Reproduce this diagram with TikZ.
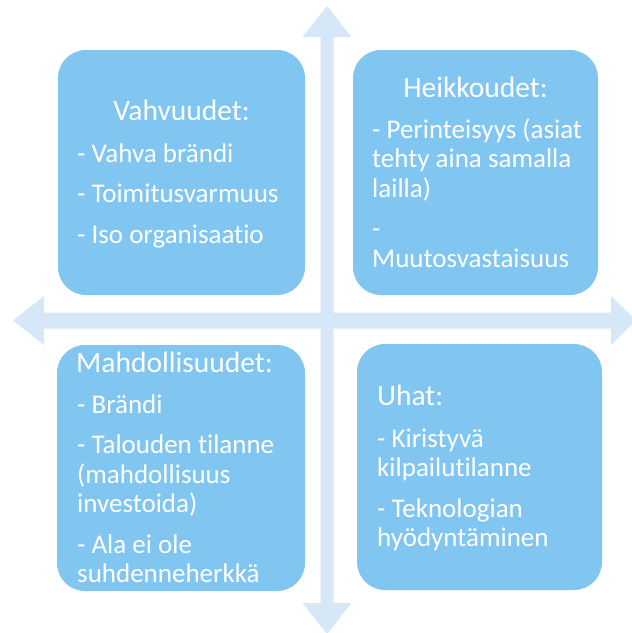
\documentclass[tikz,border=0pt]{standalone}
\usepackage{fontspec}
\setmainfont{Carlito}[Ligatures=NoCommon]
% a list whose reference point is the baseline of its first line
\newcommand{\quadlist}[1]{\begin{tabular}[t]{@{}l@{}}#1\end{tabular}}
\begin{document}
\begin{tikzpicture}[x=1pt,y=-1pt,
  quad/.style={fill=boxblue, rounded corners=28pt, inner sep=0pt},
  txt/.style={text=white, inner sep=0pt,
    font=\fontsize{27}{29.5}\selectfont},
  ttl/.style={text=white, inner sep=0pt,
    font=\fontsize{29.5}{32}\selectfont}]
\definecolor{boxblue}{RGB}{128,198,240}
\definecolor{axisblue}{RGB}{214,232,247}
\useasboundingbox (0,0) rectangle (632,633);
\clip (0,0) rectangle (632,633);

% axis cross: two double-headed arrows
\fill[axisblue]
  (327,6) -- (351.5,37) -- (333.5,37) -- (333.5,603) -- (351.5,603)
  -- (327,634) -- (302.5,603) -- (320.5,603) -- (320.5,37) -- (302.5,37) -- cycle;
\fill[axisblue]
  (13,320.5) -- (44,296) -- (44,312.5) -- (611,312.5) -- (611,296)
  -- (636,320.5) -- (611,345) -- (611,328.5) -- (44,328.5) -- (44,345) -- cycle;

% four quadrant boxes
\node[quad, minimum width=247pt, minimum height=245pt] (str) at (181.5,172.5) {};
\node[quad, minimum width=245pt, minimum height=245pt] (wea) at (475.5,172.5) {};
\node[quad, minimum width=248pt, minimum height=246pt] (opp) at (181,468) {};
\node[quad, minimum width=245pt, minimum height=246pt] (thr) at (479.5,467) {};

% strengths
\node[ttl, anchor=base] (strT) at (181.5,120) {Vahvuudet:};
\node[txt, anchor=base west] (strL) at (77,162)
  {\quadlist{- Vahva brändi\\[11pt]- Toimitusvarmuus\\[11pt]- Iso organisaatio}};

% weaknesses
\node[ttl, anchor=base] (weaT) at (475.5,97) {Heikkoudet:};
\node[txt, anchor=base west] (weaL) at (372,138)
  {\quadlist{- Perinteisyys (asiat\\tehty aina samalla\\lailla)\\[11pt]-\\Muutosvastaisuus}};

% opportunities
\node[ttl, anchor=base west] (oppT) at (76,372) {Mahdollisuudet:};
\node[txt, anchor=base west] (oppL) at (77,413)
  {\quadlist{- Brändi\\[11pt]- Talouden tilanne\\(mahdollisuus\\investoida)\\[11pt]- Ala ei ole\\suhdenneherkkä}};

% threats
\node[ttl, anchor=base west] (thrT) at (377,405) {Uhat:};
\node[txt, anchor=base west] (thrL) at (377,447)
  {\quadlist{- Kiristyvä\\kilpailutilanne\\[11pt]- Teknologian\\hyödyntäminen}};
\end{tikzpicture}
\end{document}
